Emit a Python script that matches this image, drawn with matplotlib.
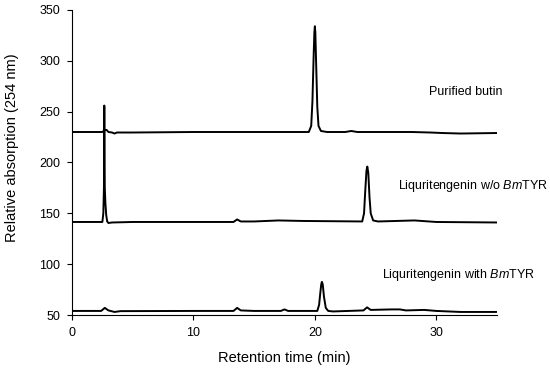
import matplotlib
matplotlib.use("Agg")
import matplotlib.pyplot as plt

plt.rcParams['font.family'] = ['Liberation Sans', 'DejaVu Sans']
plt.rcParams['mathtext.fontset'] = 'custom'
plt.rcParams['mathtext.rm'] = 'Liberation Sans'
plt.rcParams['mathtext.it'] = 'Liberation Sans:italic'

# Trace 1: Purified butin
butin_t = [0, 2.5, 2.7, 2.85, 3.0, 3.3, 3.5, 3.7, 5, 10, 15, 19.5, 19.7, 19.8, 19.9, 19.96, 20.0,
           20.04, 20.1, 20.2, 20.3, 20.5, 21, 22.5, 23.0, 23.5, 25, 28, 29.5, 30.5, 32, 35]
butin_y = [230, 230, 232, 232, 230, 229.5, 228.5, 229.5, 229.5, 230, 230, 230, 236, 260, 305, 328, 334,
           328, 300, 255, 236, 231, 230, 230, 231, 230, 230, 230, 229.5, 229, 228.5, 229]

# Trace 2: Liquiritigenin without BmTYR
wo_t = [0, 2.5, 2.58, 2.63, 2.66, 2.7, 2.75, 2.82, 2.9, 3.0, 3.3, 5, 13.3, 13.6, 13.9, 15,
        17, 19, 23.9, 24.05, 24.15, 24.25, 24.32, 24.4, 24.5, 24.6, 24.8, 25.2, 28.2, 30, 35]
wo_y = [141.5, 141.5, 150, 175, 256, 175, 160, 148, 142, 140.5, 141, 141.5, 141.5, 144, 142, 142,
        143, 142.5, 142, 150, 172, 192, 196, 190, 166, 150, 143, 142, 143, 141.5, 141]

# Trace 3: Liquiritigenin with BmTYR
with_t = [0, 2.4, 2.7, 3.0, 3.5, 4.0, 10, 13.3, 13.6, 13.9, 15, 17.2, 17.5, 17.8, 20.2, 20.35,
          20.45, 20.53, 20.58, 20.65, 20.75, 20.9, 21.1, 21.5, 24.0, 24.3, 24.6, 26.3, 27.0, 27.5,
          29.0, 30, 32, 35]
with_y = [54, 54, 57, 54.5, 53, 53.8, 54, 54, 57, 54.5, 54, 54, 55.5, 54, 54, 60,
          72, 80.5, 82.6, 80, 68, 57, 54, 53.5, 54.5, 57.5, 55, 55.5, 55.5, 54.5,
          55, 54, 53, 53]

x_ticks = [0, 10, 20, 30]
y_ticks = [50, 100, 150, 200, 250, 300, 350]

fig = plt.figure(figsize=(5.5, 3.68), dpi=100)
ax = fig.add_axes([72/550, 1-315/368, (497-72)/550, (315-10)/368])

for t, y in [(butin_t, butin_y), (wo_t, wo_y), (with_t, with_y)]:
    ax.plot(t, y, color='black', lw=1.4, solid_joinstyle='round')

ax.set_xlim(0, 35)
ax.set_ylim(50, 350)
ax.set_xticks(x_ticks)
ax.set_yticks(y_ticks)
for s in ['top', 'right']:
    ax.spines[s].set_visible(False)
for s in ['left', 'bottom']:
    ax.spines[s].set_linewidth(0.8)
ax.tick_params(direction='out', length=3.5, width=0.8, labelsize=9, pad=5)

ax.set_xlabel('Retention time (min)', fontsize=10.5, labelpad=9)
ax.set_ylabel('Relative absorption (254 nm)', fontsize=10.5)
ax.yaxis.set_label_coords(-0.125, 0.548)

ax.text(35.45, 269.3, 'Purified butin', ha='right', va='center', fontsize=9, clip_on=False)
ax.text(39.2, 176.8, 'Liquritengenin w/o $\\mathit{Bm}$TYR', ha='right', va='center',
        fontsize=9, clip_on=False)
ax.text(38.1, 89.2, 'Liquritengenin with $\\mathit{Bm}$TYR', ha='right', va='center',
        fontsize=9, clip_on=False)

fig.savefig('out.png', dpi=100)
